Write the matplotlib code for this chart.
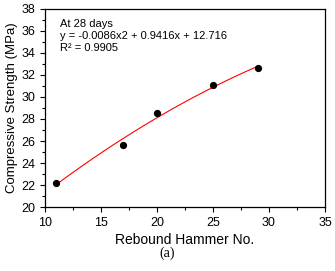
import matplotlib.pyplot as plt
import numpy as np
from matplotlib.ticker import MultipleLocator

# measured points
rebound = [11, 17, 20, 25, 29]
strength = [22.2, 25.6, 28.5, 31.1, 32.6]

# trendline coefficients as printed on the chart
coef = [-0.0086, 0.9416, 12.716]
eq_lines = ['At 28 days',
            'y = -0.0086x2 + 0.9416x + 12.716',
            'R\u00b2 = 0.9905']

plt.rcParams['font.family'] = ['Liberation Sans', 'DejaVu Sans']

fig = plt.figure(figsize=(3.35, 2.71), dpi=100)
ax = fig.add_axes([0.134, 0.236, 0.836, 0.731])

xf = np.linspace(min(rebound), max(rebound), 100)
ax.plot(xf, np.polyval(coef, xf), color='red', lw=0.8)
ax.plot(rebound, strength, 'o', color='black', ms=4.2)

ax.set_xlim(10, 35)
ax.set_ylim(20, 38)
ax.xaxis.set_major_locator(MultipleLocator(5))
ax.xaxis.set_minor_locator(MultipleLocator(2.5))
ax.yaxis.set_major_locator(MultipleLocator(2))
ax.yaxis.set_minor_locator(MultipleLocator(1))
ax.tick_params(which='both', direction='out', top=False, right=False,
               labelsize=9, width=0.8)
ax.tick_params(which='major', length=3.5)
ax.tick_params(which='minor', length=2)
for s in ax.spines.values():
    s.set_linewidth(0.9)

ax.set_xlabel('Rebound Hammer No.', fontsize=10, labelpad=3)
ax.set_ylabel('Compressive Strength (MPa)', fontsize=9.5, labelpad=2)

for i, t in enumerate(eq_lines):
    ax.text(0.054, 0.925 - i * 0.062, t, transform=ax.transAxes,
            fontsize=8, va='center', ha='left')

fig.text(0.5, 0.066, '(a)', ha='center', va='center', fontsize=10,
         family='Liberation Serif')

fig.savefig('out.png', dpi=100)
